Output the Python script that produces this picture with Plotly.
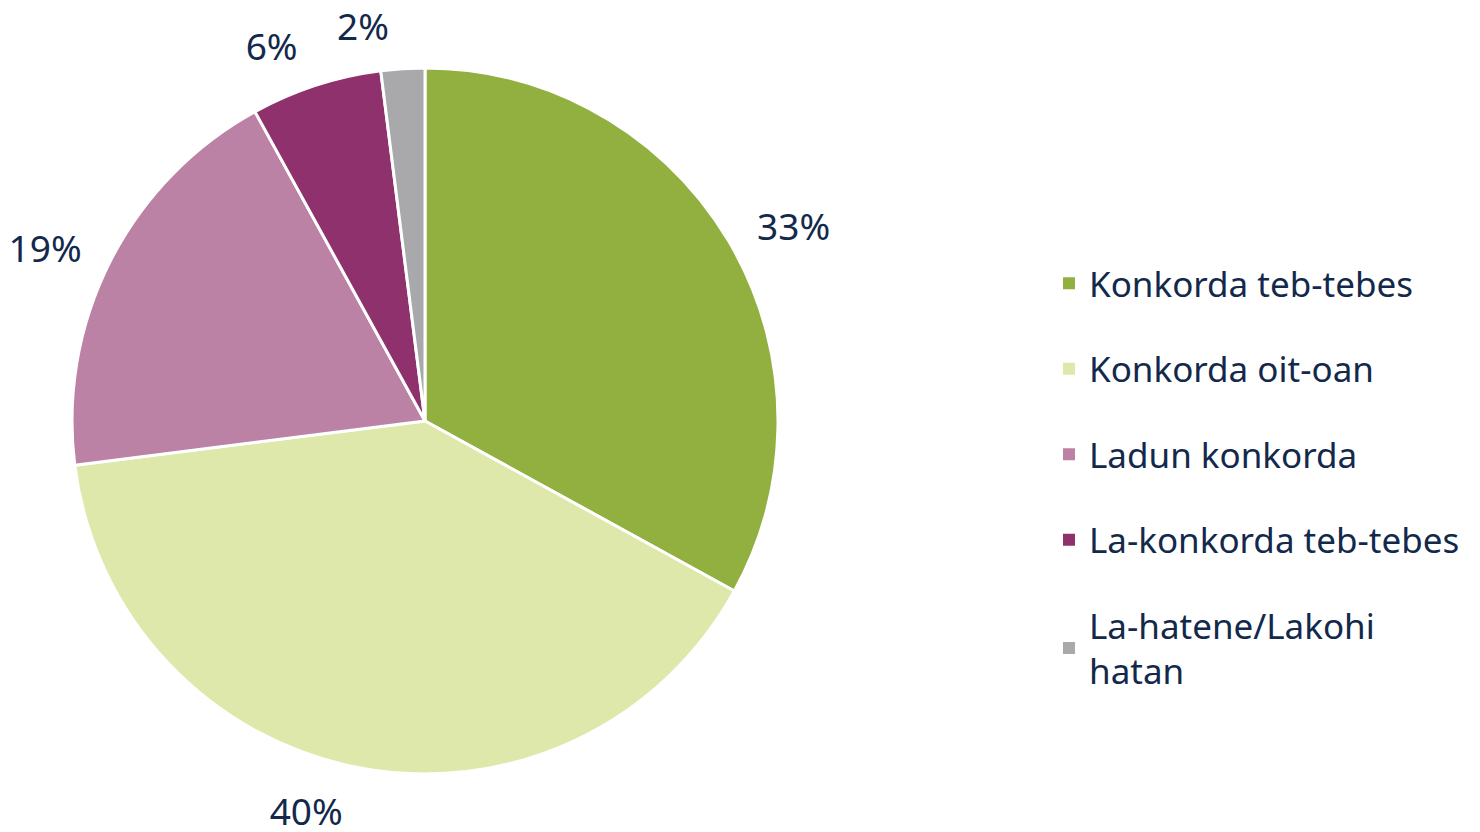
import plotly.graph_objects as go

labels = ["Konkorda teb-tebes", "Konkorda oit-oan", "Ladun konkorda",
          "La-konkorda teb-tebes", "La-hatene/Lakohi<br>hatan"]
values = [33, 40, 19, 6, 2]
colors = ["#92b040", "#dde8aa", "#bc82a6", "#8e316c", "#a9a9ab"]
text_color = "#13294b"
font_family = "Noto Sans, DejaVu Sans, sans-serif"

W, H = 1480, 832
cx, cy, r = 417, 413, 353      # pie domain centre / radius in pixels
r_lab = r + 18                 # radius of the invisible label ring


def dom(rad):
    return dict(x=[(cx - rad) / W, (cx + rad) / W],
                y=[1 - (cy + rad) / H, 1 - (cy - rad) / H])


label_tpl = [f"{v}%" for v in values]
main_text = label_tpl[:-1] + [""]
small_text = [""] * (len(values) - 1) + [label_tpl[-1]]
clear = ["rgba(0,0,0,0)"] * len(values)

fig = go.Figure()
# the visible pie
fig.add_trace(go.Pie(
    labels=labels, values=values, sort=False, direction="clockwise", rotation=0,
    marker=dict(colors=colors, line=dict(color="white", width=3)),
    textinfo="none", showlegend=False, hoverinfo="label+percent", domain=dom(r),
))
# transparent label rings (same data) so the percentages sit a bit further out
for txt in (main_text, small_text):
    fig.add_trace(go.Pie(
        labels=labels, values=values, sort=False, direction="clockwise", rotation=0,
        marker=dict(colors=clear, line=dict(width=0)),
        text=txt, textinfo="text", textposition="outside",
        textfont=dict(size=37, color=text_color, family=font_family),
        showlegend=False, hoverinfo="skip", domain=dom(r_lab),
    ))

for i, (lab, col) in enumerate(zip(labels, colors)):
    fig.add_trace(go.Scatter(
        x=[None], y=[None], mode="markers", name=lab,
        marker=dict(symbol="square", size=16, color=col),
        legendgroup=f"g{i}", showlegend=True,
    ))

fig.update_layout(
    width=W, height=H,
    margin=dict(l=0, r=0, t=0, b=0, autoexpand=False),
    paper_bgcolor="white", plot_bgcolor="white",
    xaxis=dict(visible=False), yaxis=dict(visible=False),
    font=dict(family=font_family, color=text_color),
    legend=dict(
        x=1041/1480, xanchor="left", y=1-469/832, yanchor="middle",
        font=dict(size=35, color=text_color, family=font_family),
        tracegroupgap=37, itemsizing="constant",
        bgcolor="rgba(0,0,0,0)",
    ),
)

fig.write_html("out.html")
